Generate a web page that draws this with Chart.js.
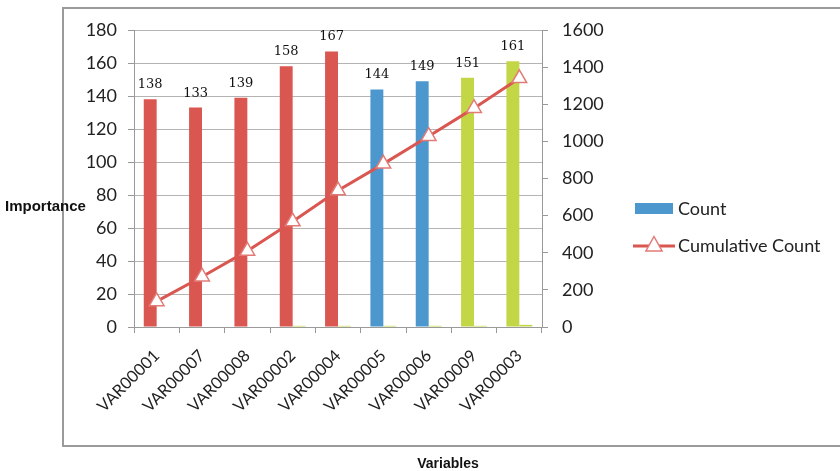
<!DOCTYPE html>
<html>
<head>
<meta charset="utf-8">
<script src="https://cdn.jsdelivr.net/npm/chart.js@4/dist/chart.umd.min.js"></script>
<style>
  html, body { margin: 0; padding: 0; background: #fff; overflow: hidden; }
  #wrap { width: 840px; height: 471px; position: relative; }
</style>
</head>
<body>
<div id="wrap"><canvas id="c" width="840" height="471"></canvas></div>
<script>
// Variables ordered by importance, their counts and the running total
const categories = ['VAR00001', 'VAR00007', 'VAR00008', 'VAR00002', 'VAR00004',
                    'VAR00005', 'VAR00006', 'VAR00009', 'VAR00003'];
const counts = [138, 133, 139, 158, 167, 144, 149, 151, 161];
const cumulativeCounts = [138, 271, 410, 568, 735, 879, 1028, 1179, 1340];
// small secondary bar series plotted beside each count bar
const secondaryValues = [0, 0, 0, 0.7, 0.7, 0.7, 0.7, 0.7, 1.3];
// group of each bar: 0 = red, 1 = blue, 2 = green
const barGroups = [0, 0, 0, 0, 0, 1, 1, 2, 2];

const RED = '#DA5650', BLUE = '#4C97CE', GREEN = '#C3D646';
const groupColors = [RED, BLUE, GREEN];
const GRID = '#B4B4B4', AXIS = '#999999', TEXT = '#222222';
const TICK_FONT = { family: 'Lato, "Open Sans", sans-serif', size: 18 };
const CAT_FONT = { family: 'Lato, "Open Sans", sans-serif', size: 16.5 };

const frameAndTitles = {
  id: 'frameAndTitles',
  beforeDraw(chart) {
    const ctx = chart.ctx;
    ctx.save();
    ctx.fillStyle = '#fff';
    ctx.fillRect(0, 0, chart.width, chart.height);
    ctx.strokeStyle = '#9A9A9A';
    ctx.lineWidth = 2;
    ctx.strokeRect(63, 8, 800, 438);
    ctx.restore();
  },
  afterDraw(chart) {
    const ctx = chart.ctx;
    ctx.save();
    ctx.fillStyle = '#111';
    ctx.font = 'bold 15px "Liberation Sans", Arial, sans-serif';
    ctx.textBaseline = 'middle';
    ctx.textAlign = 'left';
    ctx.fillText('Importance', 5, 207);
    ctx.textAlign = 'center';
    ctx.font = 'bold 14px "Liberation Sans", Arial, sans-serif';
    ctx.fillText('Variables', 448, 464);

    // legend
    ctx.fillStyle = BLUE;
    ctx.fillRect(635, 203, 38, 11);
    ctx.strokeStyle = RED;
    ctx.lineWidth = 3;
    ctx.beginPath();
    ctx.moveTo(633, 246);
    ctx.lineTo(675, 246);
    ctx.stroke();
    drawTriangle(ctx, 654, 245, 8.5);
    ctx.fillStyle = TEXT;
    ctx.font = '18px Lato, "Open Sans", sans-serif';
    ctx.textAlign = 'left';
    ctx.textBaseline = 'middle';
    ctx.fillText('Count', 678, 209);
    ctx.fillText('Cumulative Count', 678, 246);
    ctx.restore();
  }
};

function drawTriangle(ctx, x, y, r) {
  ctx.save();
  ctx.fillStyle = '#fff';
  ctx.strokeStyle = '#E27B76';
  ctx.lineWidth = 1.5;
  ctx.beginPath();
  ctx.moveTo(x, y - r);
  ctx.lineTo(x + r * 0.95, y + r * 0.7);
  ctx.lineTo(x - r * 0.95, y + r * 0.7);
  ctx.closePath();
  ctx.fill();
  ctx.stroke();
  ctx.restore();
}

// value printed above each count bar
const valueLabels = {
  id: 'valueLabels',
  afterDatasetsDraw(chart) {
    const ctx = chart.ctx;
    const meta = chart.getDatasetMeta(1);
    ctx.save();
    ctx.fillStyle = '#111';
    ctx.font = '13px "DejaVu Serif", "Liberation Serif", serif';
    ctx.textAlign = 'center';
    ctx.textBaseline = 'alphabetic';
    meta.data.forEach((bar, i) => {
      ctx.fillText(String(counts[i]), bar.x, bar.y - 11);
    });
    ctx.restore();
  }
};

new Chart(document.getElementById('c'), {
  data: {
    labels: categories,
    datasets: [
      {
        type: 'line',
        label: 'Cumulative Count',
        data: cumulativeCounts,
        yAxisID: 'y1',
        borderColor: RED,
        borderWidth: 3,
        pointStyle: 'triangle',
        pointRadius: 8.5,
        pointBackgroundColor: '#fff',
        pointBorderColor: '#E27B76',
        pointBorderWidth: 1.5,
        tension: 0,
        order: 0
      },
      {
        type: 'bar',
        label: 'Count',
        data: counts,
        yAxisID: 'y',
        backgroundColor: barGroups.map(g => groupColors[g]),
        categoryPercentage: 0.57,
        barPercentage: 1,
        order: 2
      },
      {
        type: 'bar',
        label: 'Secondary',
        data: secondaryValues,
        yAxisID: 'y',
        backgroundColor: GREEN,
        categoryPercentage: 0.57,
        barPercentage: 1,
        order: 2
      }
    ]
  },
  options: {
    responsive: false,
    animation: false,
    devicePixelRatio: 1,
    layout: { padding: { top: 30, left: 0, right: 0, bottom: 0 } },
    plugins: {
      legend: { display: false },
      tooltip: { enabled: false }
    },
    scales: {
      x: {
        type: 'category',
        offset: true,
        grid: {
          offset: true,
          drawOnChartArea: false,
          drawTicks: true,
          tickLength: 6,
          tickColor: AXIS
        },
        border: { color: AXIS, width: 1 },
        ticks: {
          color: TEXT,
          font: CAT_FONT,
          minRotation: 45,
          maxRotation: 45,
          padding: 13,
          autoSkip: false
        },
        afterFit(s) { s.height = 144; }
      },
      y: {
        position: 'left',
        min: 0,
        max: 180,
        grid: {
          color: GRID,
          drawTicks: true,
          tickLength: 6,
          tickColor: AXIS
        },
        border: { color: AXIS, width: 1 },
        ticks: { stepSize: 20, color: TEXT, font: TICK_FONT, padding: 11 },
        afterFit(s) { s.width = 134; }
      },
      y1: {
        position: 'right',
        min: 0,
        max: 1600,
        grid: {
          drawOnChartArea: false,
          drawTicks: true,
          tickLength: 6,
          tickColor: AXIS
        },
        border: { color: AXIS, width: 1 },
        ticks: {
          stepSize: 200, color: TEXT, font: TICK_FONT, padding: 14,
          callback: v => String(v)
        },
        afterFit(s) { s.width = 298; }
      }
    }
  },
  plugins: [frameAndTitles, valueLabels]
});
</script>
</body>
</html>
